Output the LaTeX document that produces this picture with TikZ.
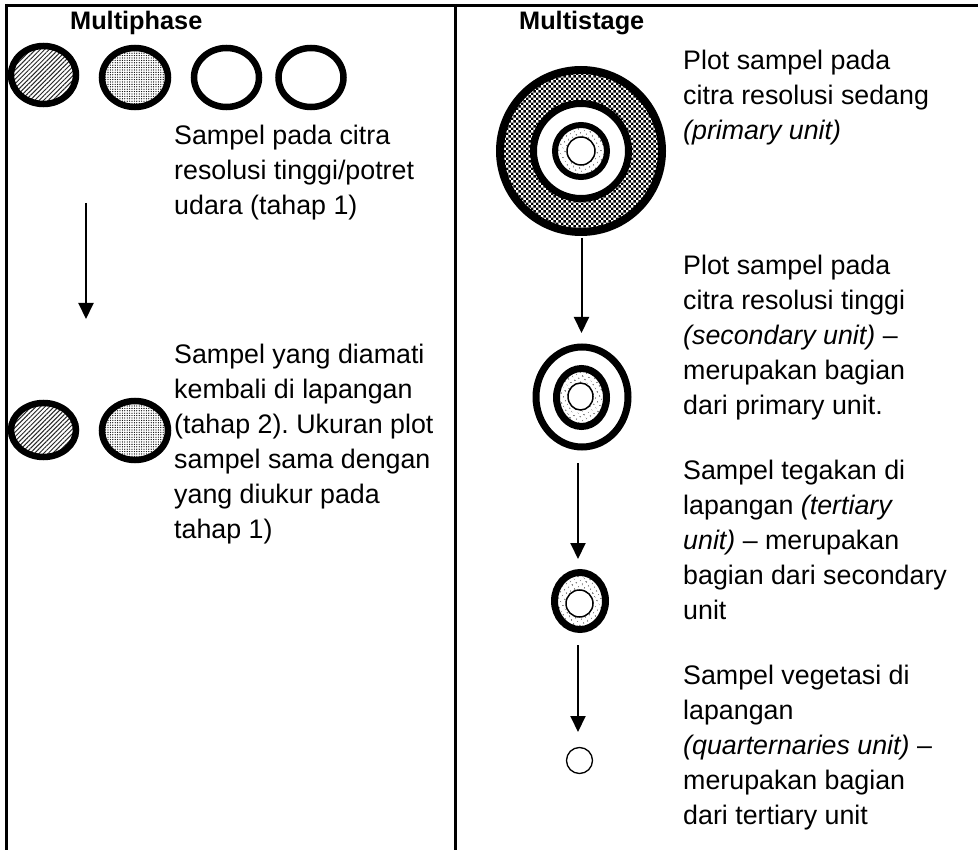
\documentclass[tikz,border=0pt]{standalone}
\usepackage{fontspec}
\setmainfont{Liberation Sans}
\usetikzlibrary{patterns,patterns.meta,arrows.meta}
\frenchspacing

\tikzdeclarepattern{
  name=checkerfine,
  type=uncolored,
  bottom left={(0pt,0pt)},
  top right={(5.4pt,5.4pt)},
  tile size={(5.4pt,5.4pt)},
  code={
    \fill (0pt,0pt) rectangle (2.7pt,2.7pt);
    \fill (2.7pt,2.7pt) rectangle (5.4pt,5.4pt);
  }
}

\tikzset{
  frameline/.style={line width=3pt},
  ring/.style={line width=6.5pt},
  thinring/.style={line width=1.5pt, fill=white},
  hatchfill/.style={pattern={Lines[angle=45,distance=3.2pt,line width=1pt]}, pattern color=black!85},
  densedots/.style={pattern={Dots[distance=2.4pt,radius=0.65pt]}, pattern color=black},
  sparsedots/.style={pattern={Dots[distance=4pt,radius=0.75pt,angle=30]}, pattern color=black!80},
  checkfill/.style={pattern=checkerfine, pattern color=black},
  flowarrow/.style={line width=2pt, -{Triangle[width=15pt,length=16pt]}},
  txt/.style={anchor=north west, inner sep=0pt, align=left, font=\fontsize{26.8}{35}\selectfont},
  head/.style={anchor=base west, inner sep=0pt, font=\fontsize{25.3}{30}\selectfont\bfseries},
}

\begin{document}
\begin{tikzpicture}[x=1pt,y=-1pt]
\useasboundingbox[fill=white] (0,0) rectangle (978,850);

% frame
\draw[frameline] (5,5.3) -- (978,5.3);
\draw[frameline] (6.7,4) -- (6.7,850);
\draw[frameline] (455.7,4) -- (455.7,850);

% headers
\node[head] (hphase) at (70,30) {Multiphase};
\node[head] (hstage) at (519,30) {Multistage};

% ---- Multiphase: stage 1 ellipses
\draw[ring, hatchfill] (43.5,75) ellipse [x radius=32.5, y radius=29];
\draw[ring, densedots] (135,77.5) ellipse [x radius=33, y radius=29.5];
\draw[ring, fill=white] (226.5,77.5) ellipse [x radius=32.5, y radius=29.5];
\draw[ring, fill=white] (311,77.5) ellipse [x radius=32.5, y radius=29.5];

\node[txt] (p1) at (174,119.5) {\strut Sampel pada citra\\resolusi tinggi/potret\\udara (tahap 1)};

\coordinate (la1) at (86,203);
\coordinate (la2) at (86,319);
\draw[flowarrow] (la1) -- (la2);

% ---- Multiphase: stage 2 ellipses
\draw[ring, hatchfill] (43.5,430) ellipse [x radius=32.5, y radius=27];
\draw[ring, densedots] (135,430.5) ellipse [x radius=33, y radius=29.5];

\node[txt] (p2) at (174,338.5) {\strut Sampel yang diamati\\kembali di lapangan\\(tahap 2). Ukuran plot\\sampel sama dengan\\yang diukur pada\\tahap 1)};

% ---- Multistage: primary unit
\fill[checkfill] (581,151) circle [radius=82];
\draw[line width=8pt] (581,151) circle [radius=81];
\draw[line width=7pt, fill=white] (581,151) circle [radius=47.5];
\draw[line width=6pt, sparsedots] (581,151) circle [radius=26];
\draw[thinring] (581,151) circle [radius=14];

\node[txt] (r1) at (683,44.5) {\strut Plot sampel pada\\citra resolusi sedang\\\textit{(primary unit)}};

\coordinate (ra1) at (581.5,238);
\coordinate (ra2) at (581.5,333);
\draw[flowarrow] (ra1) -- (ra2);

% ---- secondary unit
\draw[line width=7pt, fill=white] (582,397) ellipse [x radius=46, y radius=50];
\draw[line width=7pt, sparsedots] (581.5,397.5) ellipse [x radius=25, y radius=29];
\draw[thinring] (580.5,396.5) ellipse [x radius=12.5, y radius=13.5];

\node[txt] (r2) at (683,249.5) {\strut Plot sampel pada\\citra resolusi tinggi\\\textit{(secondary unit)} --\\merupakan bagian\\dari primary unit.};

\coordinate (rb1) at (578,463);
\coordinate (rb2) at (578,559);
\draw[flowarrow] (rb1) -- (rb2);

% ---- tertiary unit
\draw[line width=7pt, sparsedots] (580,601) ellipse [x radius=25.5, y radius=28.5];
\draw[thinring] (579.5,603.5) circle [radius=13.5];

\node[txt] (r3) at (683,454.5) {\strut Sampel tegakan di\\lapangan \textit{(tertiary}\\\textit{unit)} -- merupakan\\bagian dari secondary\\unit};

\coordinate (rc1) at (578,645);
\coordinate (rc2) at (578,732);
\draw[flowarrow] (rc1) -- (rc2);

% ---- quarternaries unit
\draw[line width=1.3pt] (579.5,760.5) circle [radius=13];

\node[txt] (r4) at (683,659.5) {\strut Sampel vegetasi di\\lapangan\\\textit{(quarternaries unit)} --\\merupakan bagian\\dari tertiary unit};

\end{tikzpicture}
\end{document}
